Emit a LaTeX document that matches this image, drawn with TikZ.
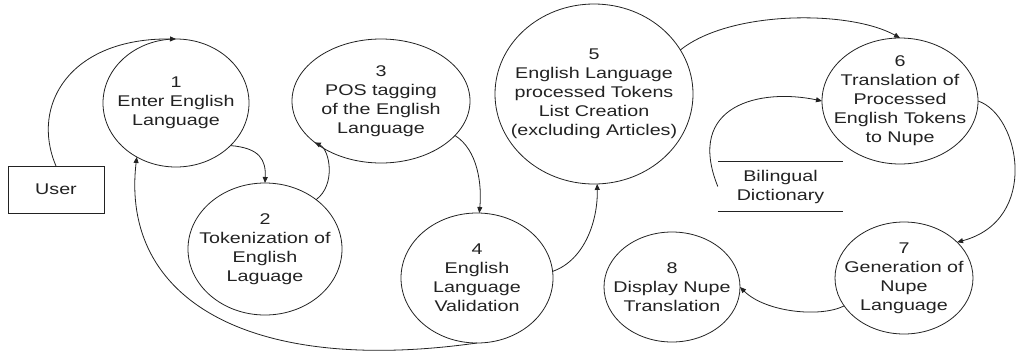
\documentclass[tikz,border=0pt]{standalone}
\usepackage{fontspec}
\setmainfont{Liberation Sans}[FakeStretch=1.27]
\usetikzlibrary{shapes.geometric,arrows.meta}
\definecolor{ink}{HTML}{222222}
\begin{document}
\begin{tikzpicture}[x=1pt,y=-1pt,
  proc/.style={ellipse,draw=ink,line width=0.8pt,inner sep=0pt,outer sep=0pt},
  lbl/.style={align=center,text=ink,inner sep=0pt,font=\fontsize{15.5}{19}\selectfont},
  ext/.style={draw=ink,line width=0.8pt,minimum width=96,minimum height=47,inner sep=0pt,outer sep=0pt,text=ink,font=\fontsize{15.5}{19}\selectfont},
  flow/.style={draw=ink,line width=0.8pt,-{Triangle[length=6pt,width=5pt]}}]
\useasboundingbox (0,0) rectangle (1017,354);
% processes
\node[proc,minimum width=146,minimum height=128] (p1) at (176,103) {};
\node[lbl] (p1t) at (p1) {1\\Enter English\\Language};
\node[proc,minimum width=154,minimum height=132] (p2) at (265,249) {};
\node[lbl] (p2t) at (p2) {2\\Tokenization of\\English\\Laguage};
\node[proc,minimum width=178,minimum height=124] (p3) at (381,101) {};
\node[lbl] (p3t) at (p3) {3\\POS tagging\\of the English\\Language};
\node[proc,minimum width=152,minimum height=130] (p4) at (477,278) {};
\node[lbl] (p4t) at (p4) {4\\English\\Language\\Validation};
\node[proc,minimum width=198,minimum height=180] (p5) at (594,94) {};
\node[lbl] (p5t) at (p5) {5\\English Language\\processed Tokens\\List Creation\\(excluding Articles)};
\node[proc,minimum width=156,minimum height=126] (p6) at (900,101) {};
\node[lbl] (p6t) at (p6) {6\\Translation of\\Processed\\English Tokens\\to Nupe};
\node[proc,minimum width=138,minimum height=112] (p7) at (904,278) {};
\node[lbl] (p7t) at (p7) {7\\Generation of\\Nupe\\Language};
\node[proc,minimum width=136,minimum height=110] (p8) at (672,287) {};
\node[lbl] (p8t) at (p8) {8\\Display Nupe\\Translation};
% external entity
\node[ext] (user) at (56,189.5) {User};
% data store
\node[lbl,minimum width=125,minimum height=49] (dict) at (780.5,186.5) {Bilingual\\Dictionary};
\draw[ink,line width=0.8pt] (dict.north west) -- (dict.north east);
\draw[ink,line width=0.8pt] (dict.south west) -- (dict.south east);
% flows
\draw[flow] (user.north) .. controls (30,105) and (70,38) .. (p1.north);
\draw[flow] (p1.-38) .. controls (260,148) and (266,160) .. (p2.north);
\draw[flow] (p2.44) .. controls (336,185) and (330,150) .. (p3.212);
\draw[flow] (p3.-25) .. controls (478,150) and (482,185) .. (p4.88);
\draw[flow] (p4.south) .. controls (250,375) and (120,300) .. (p1.234);
\draw[flow] (p4.5) .. controls (585,260) and (598,220) .. (p5.-88);
\draw[flow] (p5.27) .. controls (730,10) and (850,10) .. (p6.north);
\draw[flow] (dict.west) .. controls (685,105) and (760,88) .. (p6.west);
\draw[flow] (p6.east) .. controls (1020,115) and (1040,220) .. (p7.34);
\draw[flow] (p7.205) .. controls (820,318) and (765,312) .. (p8.east);
\end{tikzpicture}
\end{document}
